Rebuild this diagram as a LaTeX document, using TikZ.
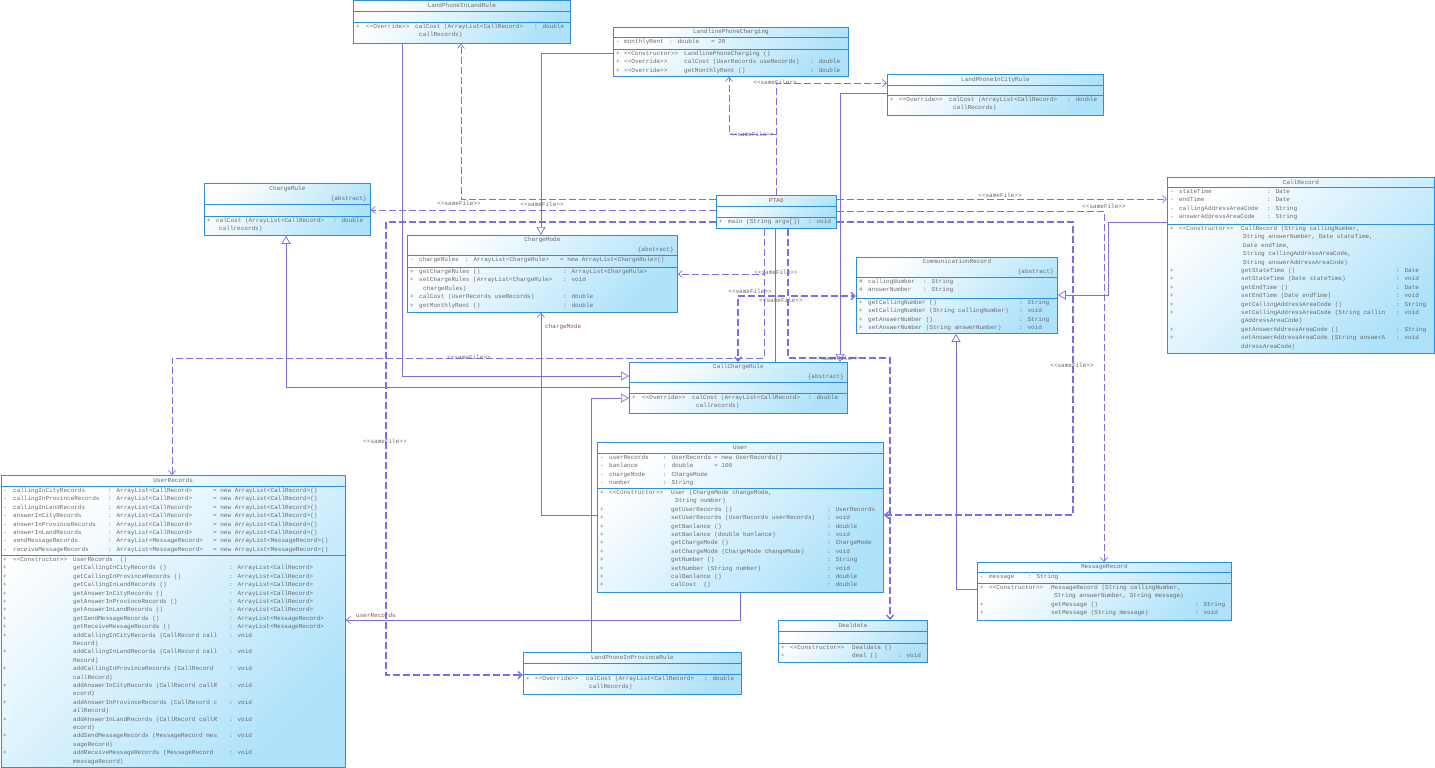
\documentclass[tikz,border=0pt]{standalone}
\usepackage{fontspec}
\newfontfamily\umlfont{Liberation Mono}
\usetikzlibrary{arrows.meta}
\definecolor{boxblue}{HTML}{2A8CF0}
\definecolor{boxfill}{HTML}{AEE2FA}
\definecolor{linkc}{HTML}{7B6CF0}
\definecolor{txtgray}{HTML}{6A6A6A}
\definecolor{namered}{HTML}{9A4A4A}
\tikzset{
  cls/.style={draw=boxblue,line width=0.8pt,top color=white,bottom color=boxfill,shading angle=45,inner sep=0pt,anchor=north west},
  sep/.style={boxblue,line width=0.8pt},
  ttl/.style={inner sep=0pt,font=\umlfont\fontsize{6}{8.4}\selectfont,text=txtgray},
  txt/.style={inner sep=0pt,anchor=north west,font=\umlfont\fontsize{6}{8.4}\selectfont,text=txtgray},
  stf/.style={inner sep=0pt,font=\umlfont\fontsize{6}{8.4}\selectfont,text=txtgray},
  role/.style={inner sep=0pt,anchor=west,font=\umlfont\fontsize{6}{8.4}\selectfont,text=namered},
  lnk/.style={linkc,line width=0.7pt},
  gen/.style={lnk,-{Triangle[length=8pt,width=9pt,fill=white]}},
  asc/.style={lnk,-{Straight Barb[length=4pt,width=7pt]}},
  dep/.style={lnk,dash pattern=on 7pt off 3pt,-{Straight Barb[length=4pt,width=7pt]}},
  depb/.style={dep,line width=1.4pt},
}
\begin{document}
\begin{tikzpicture}[x=1pt,y=-1pt]
  \useasboundingbox (0,0) rectangle (1435,768);
  % LandPhoneInLandRule
  \node[cls,minimum width=217pt,minimum height=42.5pt] (llr) at (353,0.5) {};
  \draw[sep] (llr.west |- 0,11) -- (llr.east |- 0,11);
  \draw[sep] (llr.west |- 0,22) -- (llr.east |- 0,22);
  \node[ttl] (llr-n) at (llr.north |- 0,5.5) {LandPhoneInLandRule};
  \node[txt] (llr-m) at (356,22.5) {\begin{tabular}{@{}p{10pt}@{}p{49pt}@{}p{119pt}@{}l@{}}
    + & <<Override>> & calCost (ArrayList<CallRecord> & : double\\
      & & \hspace{4pt}callRecords) & \end{tabular}};
  % LandlinePhoneCharging
  \node[cls,minimum width=235pt,minimum height=49pt] (lpc) at (613,27) {};
  \draw[sep] (lpc.west |- 0,37) -- (lpc.east |- 0,37);
  \draw[sep] (lpc.west |- 0,49) -- (lpc.east |- 0,49);
  \node[ttl] (lpc-n) at (lpc.north |- 0,32) {LandlinePhoneCharging};
  \node[txt] (lpc-a) at (616,37.5) {\begin{tabular}{@{}p{8pt}@{}p{45pt}@{}p{42pt}@{}l@{}}
    - & monthlyRent & : double & = 20\end{tabular}};
  \node[txt] (lpc-m) at (616,49.5) {\begin{tabular}{@{}p{8pt}@{}p{60pt}@{}p{126pt}@{}l@{}}
    + & <<Constructor>> & LandlinePhoneCharging () & \\
    + & <<Override>> & calCost (UserRecords useRecords) & : double\\
    + & <<Override>> & getMonthlyRent () & : double\end{tabular}};
  % LandPhoneInCityRule
  \node[cls,minimum width=216pt,minimum height=41pt] (lcr) at (887,74) {};
  \draw[sep] (lcr.west |- 0,85) -- (lcr.east |- 0,85);
  \draw[sep] (lcr.west |- 0,95) -- (lcr.east |- 0,95);
  \node[ttl] (lcr-n) at (lcr.north |- 0,79.5) {LandPhoneInCityRule};
  \node[txt] (lcr-m) at (890,95.5) {\begin{tabular}{@{}p{9pt}@{}p{50pt}@{}p{118pt}@{}l@{}}
    + & <<Override>> & calCost (ArrayList<CallRecord> & : double\\
      & & \hspace{4pt}callRecords) & \end{tabular}};
  % ChargeRule
  \node[cls,minimum width=166pt,minimum height=52pt] (chr) at (204,183) {};
  \draw[sep] (chr.west |- 0,204) -- (chr.east |- 0,204);
  \draw[sep] (chr.west |- 0,216) -- (chr.east |- 0,216);
  \node[ttl] (chr-n) at (chr.north |- 0,188.5) {ChargeRule};
  \node[ttl,anchor=east] (chr-s) at (367,198.5) {\{abstract\}};
  \node[txt] (chr-m) at (207,216.5) {\begin{tabular}{@{}p{9pt}@{}p{117pt}@{}l@{}}
    + & calCost (ArrayList<CallRecord> & : double\\
      & \hspace{3pt}callrecords) & \end{tabular}};
  % PTA6
  \node[cls,minimum width=120pt,minimum height=33pt] (pta) at (716,195) {};
  \draw[sep] (pta.west |- 0,206) -- (pta.east |- 0,206);
  \draw[sep] (pta.west |- 0,217) -- (pta.east |- 0,217);
  \node[ttl,text=namered] (pta-n) at (pta.north |- 0,200.5) {PTA6};
  \node[txt] (pta-m) at (719,217.5) {\begin{tabular}{@{}p{9pt}@{}p{80pt}@{}l@{}}
    + & main (String args[]) & : void\end{tabular}};
  % ChargeMode
  \node[cls,minimum width=270pt,minimum height=77pt] (chm) at (407,235) {};
  \draw[sep] (chm.west |- 0,255) -- (chm.east |- 0,255);
  \draw[sep] (chm.west |- 0,267) -- (chm.east |- 0,267);
  \node[ttl] (chm-n) at (chm.north |- 0,240) {ChargeMode};
  \node[ttl,anchor=east] (chm-s) at (674,250) {\{abstract\}};
  \node[txt] (chm-a) at (410,255.5) {\begin{tabular}{@{}p{9pt}@{}p{46pt}@{}p{95pt}@{}l@{}}
    - & chargeRules & : ArrayList<ChargeRule> & = new ArrayList<ChargeRule>()\end{tabular}};
  \node[txt] (chm-m) at (410,267.5) {\begin{tabular}{@{}p{9pt}@{}p{144pt}@{}l@{}}
    + & getChargeRules () & : ArrayList<ChargeRule>\\
    + & setChargeRules (ArrayList<ChargeRule> & : void\\
      & \hspace{4pt}chargeRules) & \\
    + & calCost (UserRecords useRecords) & : double\\
    + & getMonthlyRent () & : double\end{tabular}};
  % CommunicationRecord
  \node[cls,minimum width=201pt,minimum height=76pt] (com) at (856,257) {};
  \draw[sep] (com.west |- 0,277) -- (com.east |- 0,277);
  \draw[sep] (com.west |- 0,298) -- (com.east |- 0,298);
  \node[ttl] (com-n) at (com.north |- 0,261.5) {CommunicationRecord};
  \node[ttl,anchor=east] (com-s) at (1054,271.5) {\{abstract\}};
  \node[txt] (com-a) at (859,277.5) {\begin{tabular}{@{}p{9pt}@{}p{55pt}@{}l@{}}
    \# & callingNumber & : String\\
    \# & answerNumber & : String\end{tabular}};
  \node[txt] (com-m) at (859,298.5) {\begin{tabular}{@{}p{9pt}@{}p{151pt}@{}l@{}}
    + & getCallingNumber () & : String\\
    + & setCallingNumber (String callingNumber) & : void\\
    + & getAnswerNumber () & : String\\
    + & setAnswerNumber (String answerNumber) & : void\end{tabular}};
  % CallRecord
  \node[cls,minimum width=267pt,minimum height=176pt] (cal) at (1167,177) {};
  \draw[sep] (cal.west |- 0,187) -- (cal.east |- 0,187);
  \draw[sep] (cal.west |- 0,224) -- (cal.east |- 0,224);
  \node[ttl] (cal-n) at (cal.north |- 0,182) {CallRecord};
  \node[txt] (cal-a) at (1170,187.5) {\begin{tabular}{@{}p{9pt}@{}p{88pt}@{}l@{}}
    - & stateTime & : Date\\
    - & endTime & : Date\\
    - & callingAddressAreaCode & : String\\
    - & answerAddressAreaCode & : String\end{tabular}};
  \node[txt] (cal-m) at (1170,224.5) {\begin{tabular}{@{}p{9pt}@{}p{62pt}@{}p{155pt}@{}l@{}}
    + & <<Constructor>> & CallRecord (String callingNumber, & \\
      & & \hspace{2pt}String answerNumber, Date stateTime, & \\
      & & \hspace{2pt}Date endTime, & \\
      & & \hspace{2pt}String callingAddressAreaCode, & \\
      & & \hspace{2pt}String answerAddressAreaCode) & \\
    + & & getStateTime () & : Date\\
    + & & setStateTime (Date stateTime) & : void\\
    + & & getEndTime () & : Date\\
    + & & setEndTime (Date endTime) & : void\\
    + & & getCallingAddressAreaCode () & : String\\
    + & & setCallingAddressAreaCode (String callin & : void\\
      & & gAddressAreaCode) & \\
    + & & getAnswerAddressAreaCode () & : String\\
    + & & setAnswerAddressAreaCode (String answerA & : void\\
      & & ddressAreaCode) & \end{tabular}};
  % CallChargeRule
  \node[cls,minimum width=218pt,minimum height=51pt] (ccr) at (629,362) {};
  \draw[sep] (ccr.west |- 0,382) -- (ccr.east |- 0,382);
  \draw[sep] (ccr.west |- 0,393) -- (ccr.east |- 0,393);
  \node[ttl] (ccr-n) at (ccr.north |- 0,366.5) {CallChargeRule};
  \node[ttl,anchor=east] (ccr-s) at (844,376.5) {\{abstract\}};
  \node[txt] (ccr-m) at (632,393.5) {\begin{tabular}{@{}p{10pt}@{}p{50pt}@{}p{116pt}@{}l@{}}
    + & <<Override>> & calCost (ArrayList<CallRecord> & : double\\
      & & \hspace{4pt}callrecords) & \end{tabular}};
  % User
  \node[cls,minimum width=286pt,minimum height=150pt] (usr) at (597,442) {};
  \draw[sep] (usr.west |- 0,453) -- (usr.east |- 0,453);
  \draw[sep] (usr.west |- 0,488) -- (usr.east |- 0,488);
  \node[ttl,text=namered] (usr-n) at (usr.north |- 0,447.5) {User};
  \node[txt] (usr-a) at (600,453.5) {\begin{tabular}{@{}p{9pt}@{}p{54pt}@{}p{51pt}@{}l@{}}
    - & userRecords & : UserRecords & = new UserRecords()\\
    - & banlance & : double & = 100\\
    - & chargeMode & : ChargeMode & \\
    - & number & : String & \end{tabular}};
  \node[txt] (usr-m) at (600,488.5) {\begin{tabular}{@{}p{9pt}@{}p{62pt}@{}p{156pt}@{}l@{}}
    + & <<Constructor>> & User (ChargeMode changeMode, & \\
      & & \hspace{4pt}String number) & \\
    + & & getUserRecords () & : UserRecords\\
    + & & setUserRecords (UserRecords userRecords) & : void\\
    + & & getBanlance () & : double\\
    + & & setBanlance (double banlance) & : void\\
    + & & getChargeMode () & : ChargeMode\\
    + & & setChargeMode (ChargeMode changeMode) & : void\\
    + & & getNumber () & : String\\
    + & & setNumber (String number) & : void\\
    + & & calBanlance () & : double\\
    + & & calCost \ () & : double\end{tabular}};
  % UserRecords
  \node[cls,minimum width=344.5pt,minimum height=292pt] (urs) at (0.5,475) {};
  \draw[sep] (urs.west |- 0,486) -- (urs.east |- 0,486);
  \draw[sep] (urs.west |- 0,555) -- (urs.east |- 0,555);
  \node[ttl] (urs-n) at (urs.north |- 0,480.5) {UserRecords};
  \node[txt] (urs-a) at (3,486.5) {\begin{tabular}{@{}p{10pt}@{}p{95pt}@{}p{105pt}@{}l@{}}
    - & callingInCityRecords & : ArrayList<CallRecord> & = new ArrayList<CallRecord>()\\
    - & callingInProvinceRecords & : ArrayList<CallRecord> & = new ArrayList<CallRecord>()\\
    - & callingInLandRecords & : ArrayList<CallRecord> & = new ArrayList<CallRecord>()\\
    - & answerInCityRecords & : ArrayList<CallRecord> & = new ArrayList<CallRecord>()\\
    - & answerInProvinceRecords & : ArrayList<CallRecord> & = new ArrayList<CallRecord>()\\
    - & answerInLandRecords & : ArrayList<CallRecord> & = new ArrayList<CallRecord>()\\
    - & sendMessageRecords & : ArrayList<MessageRecord> & = new ArrayList<MessageRecord>()\\
    - & receiveMessageRecords & : ArrayList<MessageRecord> & = new ArrayList<MessageRecord>()\end{tabular}};
  \node[txt] (urs-m) at (3,555.5) {\begin{tabular}{@{}p{10pt}@{}p{60pt}@{}p{156pt}@{}l@{}}
    + & <<Constructor>> & UserRecords \ () & \\
    + & & getCallingInCityRecords () & : ArrayList<CallRecord>\\
    + & & getCallingInProvinceRecords () & : ArrayList<CallRecord>\\
    + & & getCallingInLandRecords () & : ArrayList<CallRecord>\\
    + & & getAnswerInCityRecords () & : ArrayList<CallRecord>\\
    + & & getAnswerInProvinceRecords () & : ArrayList<CallRecord>\\
    + & & getAnswerInLandRecords () & : ArrayList<CallRecord>\\
    + & & getSendMessageRecords () & : ArrayList<MessageRecord>\\
    + & & getReceiveMessageRecords () & : ArrayList<MessageRecord>\\
    + & & addCallingInCityRecords (CallRecord call & : void\\
      & & Record) & \\
    + & & addCallingInLandRecords (CallRecord call & : void\\
      & & Record) & \\
    + & & addCallingInProvinceRecords (CallRecord & : void\\
      & & callRecord) & \\
    + & & addAnswerInCityRecords (CallRecord callR & : void\\
      & & ecord) & \\
    + & & addAnswerInProvinceRecords (CallRecord c & : void\\
      & & allRecord) & \\
    + & & addAnswerInLandRecords (CallRecord callR & : void\\
      & & ecord) & \\
    + & & addSendMessageRecords (MessageRecord mes & : void\\
      & & sageRecord) & \\
    + & & addReceiveMessageRecords (MessageRecord & : void\\
      & & messageRecord) & \end{tabular}};
  % Dealdata
  \node[cls,minimum width=149pt,minimum height=42pt] (dea) at (778,620) {};
  \draw[sep] (dea.west |- 0,631) -- (dea.east |- 0,631);
  \draw[sep] (dea.west |- 0,643) -- (dea.east |- 0,643);
  \node[ttl] (dea-n) at (dea.north |- 0,625.5) {Dealdata};
  \node[txt] (dea-m) at (781,643.5) {\begin{tabular}{@{}p{9pt}@{}p{62pt}@{}p{46pt}@{}l@{}}
    + & <<Constructor>> & Dealdata () & \\
    + & & deal () & : void\end{tabular}};
  % LandPhoneInProvinceRule
  \node[cls,minimum width=218pt,minimum height=42pt] (lpr) at (523,652) {};
  \draw[sep] (lpr.west |- 0,663) -- (lpr.east |- 0,663);
  \draw[sep] (lpr.west |- 0,674) -- (lpr.east |- 0,674);
  \node[ttl] (lpr-n) at (lpr.north |- 0,657.5) {LandPhoneInProvinceRule};
  \node[txt] (lpr-m) at (526,674.5) {\begin{tabular}{@{}p{9pt}@{}p{51pt}@{}p{118pt}@{}l@{}}
    + & <<Override>> & calCost (ArrayList<CallRecord> & : double\\
      & & \hspace{3pt}callRecords) & \end{tabular}};
  % MessageRecord
  \node[cls,minimum width=254pt,minimum height=58pt] (msg) at (977,562) {};
  \draw[sep] (msg.west |- 0,572) -- (msg.east |- 0,572);
  \draw[sep] (msg.west |- 0,583) -- (msg.east |- 0,583);
  \node[ttl] (msg-n) at (msg.north |- 0,567) {MessageRecord};
  \node[txt] (msg-a) at (980,572.5) {\begin{tabular}{@{}p{9pt}@{}p{39pt}@{}l@{}}
    - & message & : String\end{tabular}};
  \node[txt] (msg-m) at (980,583.5) {\begin{tabular}{@{}p{9pt}@{}p{62pt}@{}p{144pt}@{}l@{}}
    + & <<Constructor>> & MessageRecord (String callingNumber, & \\
      & & \hspace{3pt}String answerNumber, String message) & \\
    + & & getMessage () & : String\\
    + & & setMessage (String message) & : void\end{tabular}};

  % Vererbung
  \draw[gen] (llr.south -| 402,0) |- (ccr.west |- 0,376);
  \draw[gen] (ccr.west |- 0,387) -| (chr.south -| 286,0);
  \draw[gen] (lpr.north -| 591,0) |- (ccr.west |- 0,398);
  \draw[gen] (lcr.west |- 0,93) -| (ccr.north -| 840,0);
  \draw[gen] (lpc.west |- 0,53) -| (chm.north -| 541,0);
  \draw[gen] (cal.west |- 0,222) -- (1108,222) |- (com.east |- 0,295);
  \draw[gen] (msg.west |- 0,589) -| (com.south -| 956,0);
  % Assoziationen
  \draw[asc] (usr.west |- 0,515) -| (chm.south -| 541,0);
  \node[role] (r-cm) at (545,327) {chargeMode};
  \draw[asc] (usr.south -| 740,0) |- (urs.east |- 0,620);
  \draw[lnk] (pta.south -| 775,0) -- (ccr.north -| 775,0);
  \node[role] (r-ur) at (356,615) {userRecords};
  % sameFile
  \draw[dep] (pta.north -| 776,0) |- (lcr.west |- 0,83);
  \node[stf] (sf1) at (775,82) {<<sameFile>>};
  \draw[dep] (pta.north -| 776,0) |- (729,134) -- (lpc.south -| 729,0);
  \node[stf] (sf2) at (752,134) {<<sameFile>>};
  \draw[dep] (pta.west |- 0,199) -| (llr.south -| 461,0);
  \node[stf] (sf3) at (542,204.5) {<<sameFile>>};
  \draw[dep] (pta.west |- 0,210) -- (chr.east |- 0,210);
  \node[stf] (sf4) at (459,203.5) {<<sameFile>>};
  \draw[depb] (pta.west |- 0,222) -- (386,222) |- (lpr.west |- 0,675);
  \node[stf] (sf5) at (385,441) {<<sameFile>>};
  \draw[dep] (pta.east |- 0,199) -- (cal.west |- 0,199);
  \node[stf] (sf6) at (1000,195.5) {<<sameFile>>};
  \draw[dep] (pta.east |- 0,211) -| (msg.north -| 1104,0);
  \node[stf] (sf7) at (1104,206) {<<sameFile>>};
  \draw[depb] (pta.east |- 0,222) -- (1073,222) |- (usr.east |- 0,515);
  \node[stf] (sf8) at (1072,365) {<<sameFile>>};
  \draw[dep] (pta.south -| 764,0) |- (chm.east |- 0,274);
  \node[stf] (sf9) at (776,272) {<<sameFile>>};
  \draw[dep] (pta.south -| 764,0) |- (172,358) -- (urs.north -| 172,0);
  \node[stf] (sf10) at (469,357) {<<sameFile>>};
  \draw[depb] (pta.south -| 788,0) |- (738,296) -- (ccr.north -| 738,0);
  \draw[depb] (pta.south -| 788,0) |- (com.west |- 0,296);
  \node[stf] (sf11) at (750,291) {<<sameFile>>};
  \node[stf] (sf12) at (781,300.5) {<<sameFile>>};
  \draw[depb] (pta.south -| 788,0) |- (890,358) -- (dea.north -| 890,0);
  \node[stf] (sf13) at (837,358) {<<sameFile>>};
\end{tikzpicture}
\end{document}
